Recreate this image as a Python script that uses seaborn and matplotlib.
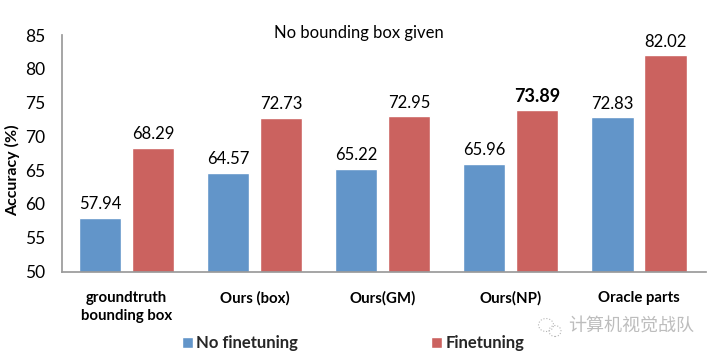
import pandas as pd
import matplotlib
matplotlib.use('Agg')
import matplotlib.pyplot as plt
from matplotlib.patches import Ellipse
import seaborn as sns

categories = ['groundtruth\nbounding box', 'Ours (box)', 'Ours(GM)', 'Ours(NP)', 'Oracle parts']
no_finetuning = [57.94, 64.57, 65.22, 65.96, 72.83]
finetuning = [68.29, 72.73, 72.95, 73.89, 82.02]
series_names = ['No finetuning', 'Finetuning']
colors = ['#6295C9', '#CB625F']
y_ticks = [50, 55, 60, 65, 70, 75, 80, 85]

sns.set_theme(style='white')
plt.rcParams['font.family'] = ['Lato', 'Noto Sans CJK SC', 'DejaVu Sans']

df = pd.DataFrame({
    'category': categories * 2,
    'series': [series_names[0]] * 5 + [series_names[1]] * 5,
    'value': no_finetuning + finetuning,
})

W, H = 709, 358
fig = plt.figure(figsize=(W / 100, H / 100), dpi=100)
ax = fig.add_axes([62 / W, 1 - 271.5 / H, (706 - 62) / W, (271.5 - 35) / H])

sns.barplot(data=df, x='category', y='value', hue='series', order=categories,
            hue_order=series_names, palette=colors, width=0.828, gap=0.19,
            saturation=1, ax=ax, legend=True)

ax.set_xlim(-0.504, 4.527)
ax.set_ylim(50, 85)
ax.set_yticks(y_ticks)
ax.set_xlabel('')
ax.set_ylabel('Accuracy (%)', fontsize=11.5, fontweight='bold', color='black')
ax.yaxis.set_label_coords(20 / W, 1 - 170 / H, transform=fig.transFigure)
ax.tick_params(axis='y', length=0, labelsize=12.5, labelcolor='black', pad=12)
ax.tick_params(axis='x', length=0, labelsize=10.8, labelcolor='black', pad=14)
for lab in ax.get_xticklabels():
    lab.set_fontweight('bold')
    lab.set_linespacing(1.35)

sns.despine(ax=ax)
ax.spines['left'].set_color('#9a9a9a')
ax.spines['bottom'].set_color('#9a9a9a')

# value labels, the 73.89 one is bold in the original
for cont in ax.containers:
    for t in ax.bar_label(cont, fmt='%.2f', fontsize=12, padding=4, color='black'):
        if t.get_text() == '73.89':
            t.set_fontweight('bold')
            t.set_fontsize(13)

ax.text(359 / W, 1 - 33 / H, 'No bounding box given', transform=fig.transFigure,
        ha='center', va='center', fontsize=12, color='black')

handles, labels = ax.get_legend_handles_labels()
ax.legend(handles, labels, loc='center left', bbox_to_anchor=(182 / W, 1 - 343 / H),
          bbox_transform=fig.transFigure, ncol=2, frameon=False, handlelength=0.66,
          handleheight=0.66, handletextpad=0.18, columnspacing=8, borderpad=0,
          borderaxespad=0, prop={'family': 'Lato', 'weight': 'bold', 'size': 12})

# watermark in the lower right corner
fig.text(568 / W, 1 - 327 / H, '计算机视觉战队', fontsize=13, color='#bdbdbd',
         ha='left', va='center', family=['Noto Sans CJK SC', 'DejaVu Sans'])
for cx, cy, w, h in [(546, 325, 15, 13), (555, 331, 12, 11)]:
    fig.add_artist(Ellipse((cx / W, 1 - cy / H), w / W, h / H, transform=fig.transFigure,
                           fill=False, edgecolor='#b5b5b5', linewidth=0.8, linestyle=':'))

fig.savefig('out.png', dpi=100)
